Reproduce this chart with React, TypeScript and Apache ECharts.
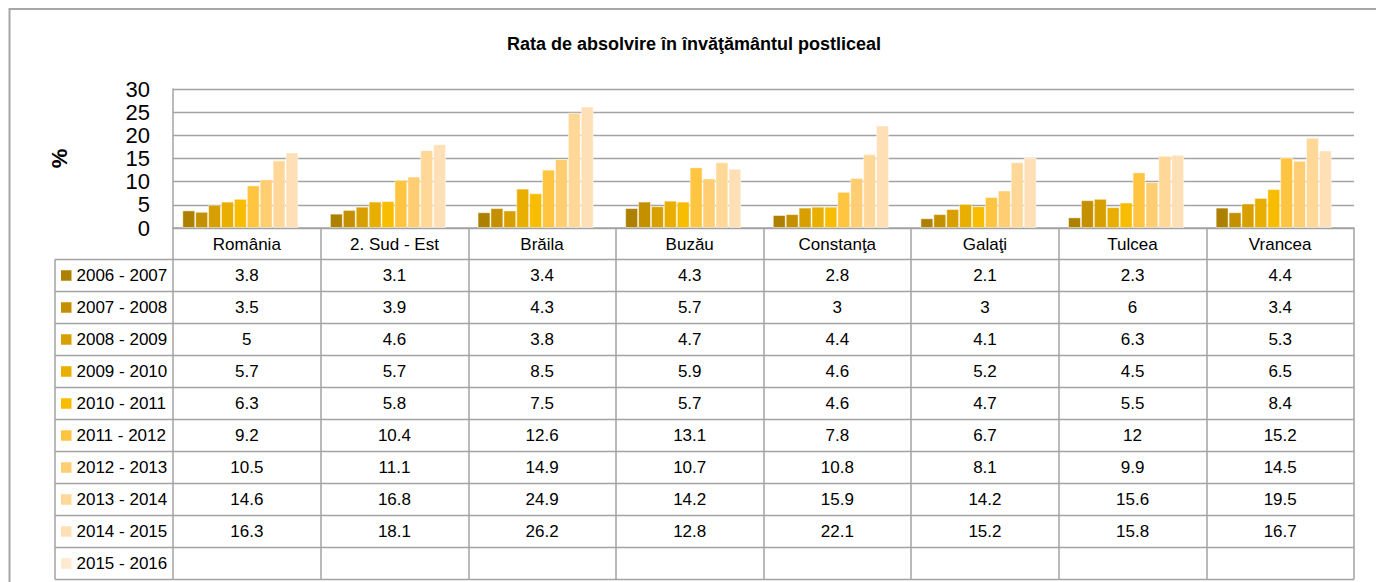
import React, { useEffect, useRef } from "react";
import * as echarts from "echarts";

const categories = ["România", "2. Sud - Est", "Brăila", "Buzău", "Constanţa", "Galaţi", "Tulcea", "Vrancea"];
const seriesNames = [
  "2006 - 2007", "2007 - 2008", "2008 - 2009", "2009 - 2010", "2010 - 2011",
  "2011 - 2012", "2012 - 2013", "2013 - 2014", "2014 - 2015", "2015 - 2016",
];
const s0607 = [3.8, 3.1, 3.4, 4.3, 2.8, 2.1, 2.3, 4.4];
const s0708 = [3.5, 3.9, 4.3, 5.7, 3, 3, 6, 3.4];
const s0809 = [5, 4.6, 3.8, 4.7, 4.4, 4.1, 6.3, 5.3];
const s0910 = [5.7, 5.7, 8.5, 5.9, 4.6, 5.2, 4.5, 6.5];
const s1011 = [6.3, 5.8, 7.5, 5.7, 4.6, 4.7, 5.5, 8.4];
const s1112 = [9.2, 10.4, 12.6, 13.1, 7.8, 6.7, 12, 15.2];
const s1213 = [10.5, 11.1, 14.9, 10.7, 10.8, 8.1, 9.9, 14.5];
const s1314 = [14.6, 16.8, 24.9, 14.2, 15.9, 14.2, 15.6, 19.5];
const s1415 = [16.3, 18.1, 26.2, 12.8, 22.1, 15.2, 15.8, 16.7];
const s1516: (number | null)[] = [null, null, null, null, null, null, null, null];
const seriesData = [s0607, s0708, s0809, s0910, s1011, s1112, s1213, s1314, s1415, s1516];
const colors = [
  "#AD8000", "#C49000", "#D7A000", "#E8AE00", "#F8BC00",
  "#FFC540", "#FFCE72", "#FFD898", "#FFE0B6", "#FFE9D0",
];
const yTicks = { min: 0, max: 30, interval: 5 };

const FONT = "'Liberation Sans', Arial, sans-serif";
const GRID_LEFT = 173;
const GRID_RIGHT_X = 1354;
const GRID_TOP = 89;
const GRID_BOTTOM_Y = 228;
const HEADER_H = 31.5;
const ROW_H = 32;
const TABLE_LEFT = 55;
const LINE = "#a3a3a3";

export default function App() {
  const ref = useRef<HTMLDivElement>(null);
  useEffect(() => {
    if (!ref.current) return;
    const chart = echarts.init(ref.current, null, { renderer: "svg" });
    const tableTop = GRID_BOTTOM_Y + HEADER_H;
    const nRows = seriesNames.length;

    const valueAxes = seriesData.map((row, k) => ({
      type: "category" as const,
      gridIndex: 0,
      position: "bottom" as const,
      offset: HEADER_H + k * ROW_H + 6,
      data: categories,
      axisLine: { show: false },
      axisTick: { show: false },
      splitLine: { show: false },
      axisLabel: {
        interval: 0,
        margin: 0,
        fontFamily: FONT,
        fontSize: 17,
        lineHeight: 20,
        color: "#000",
        formatter: (_v: string, i: number) => (row[i] == null ? "" : String(row[i])),
      },
    }));

    const hLines: any[] = [];
    for (let k = 0; k <= nRows; k++) {
      const y = tableTop + k * ROW_H;
      hLines.push({
        type: "line",
        shape: { x1: TABLE_LEFT, y1: y, x2: GRID_RIGHT_X, y2: y },
        style: { stroke: LINE, lineWidth: 1.5 },
        z: 10,
      });
    }
    hLines.push({
      type: "line",
      shape: { x1: TABLE_LEFT, y1: tableTop, x2: TABLE_LEFT, y2: tableTop + nRows * ROW_H },
      style: { stroke: LINE, lineWidth: 1.5 },
      z: 10,
    });

    chart.setOption({
      animation: false,
      backgroundColor: "#fff",
      title: {
        text: "Rata de absolvire în învăţământul postliceal",
        left: 694,
        top: 35,
        textAlign: "center",
        padding: 0,
        textStyle: { fontFamily: FONT, fontSize: 18, fontWeight: "bold", color: "#000" },
      },
      legend: {
        orient: "vertical",
        left: 61,
        top: tableTop + 6,
        padding: 0,
        itemGap: ROW_H - 20,
        itemWidth: 10.5,
        itemHeight: 10.5,
        icon: "rect",
        selectedMode: false,
        itemStyle: { borderWidth: 0 },
        textStyle: { fontFamily: FONT, fontSize: 17, lineHeight: 20, color: "#000" },
        data: seriesNames,
      },
      grid: {
        left: GRID_LEFT,
        right: 1376 - GRID_RIGHT_X,
        top: GRID_TOP,
        bottom: 582 - GRID_BOTTOM_Y,
        containLabel: false,
      },
      xAxis: [
        {
          type: "category",
          gridIndex: 0,
          position: "bottom",
          data: categories,
          axisLine: { show: true, lineStyle: { color: LINE, width: 1.5 } },
          axisTick: {
            show: true,
            length: HEADER_H + nRows * ROW_H,
            lineStyle: { color: LINE, width: 1.5 },
          },
          axisLabel: {
            interval: 0,
            margin: 6,
            fontFamily: FONT,
            fontSize: 17,
            lineHeight: 20,
            color: "#000",
          },
        },
        ...valueAxes,
      ],
      yAxis: {
        type: "value",
        min: yTicks.min,
        max: yTicks.max,
        interval: yTicks.interval,
        name: "%",
        nameLocation: "middle",
        nameRotate: 90,
        nameGap: 103,
        nameTextStyle: { fontFamily: FONT, fontSize: 22, fontWeight: "bold", color: "#000" },
        axisLine: { show: true, lineStyle: { color: LINE, width: 1.5 } },
        axisTick: { show: false },
        axisLabel: {
          margin: 23,
          showMinLabel: true,
          showMaxLabel: true,
          fontFamily: FONT,
          fontSize: 22,
          lineHeight: 22,
          color: "#000",
        },
        splitLine: { show: true, lineStyle: { color: LINE, width: 1.3 } },
      },
      series: seriesData.map((d, i) => ({
        name: seriesNames[i],
        type: "bar",
        xAxisIndex: 0,
        data: d,
        barGap: "0%",
        barCategoryGap: "12.6%",
        itemStyle: { color: colors[i], borderColor: "rgba(255,255,255,0.45)", borderWidth: 1 },
      })),
      color: colors,
      graphic: [
        {
          type: "rect",
          shape: { x: 9.5, y: 9, width: 1400, height: 600 },
          style: { fill: "none", stroke: "#a6a6a6", lineWidth: 2 },
          z: 0,
        },
        ...hLines,
      ],
    });
    return () => chart.dispose();
  }, []);
  return <div ref={ref} style={{ position: "fixed", left: 0, top: 0, width: 1376, height: 582 }} />;
}
